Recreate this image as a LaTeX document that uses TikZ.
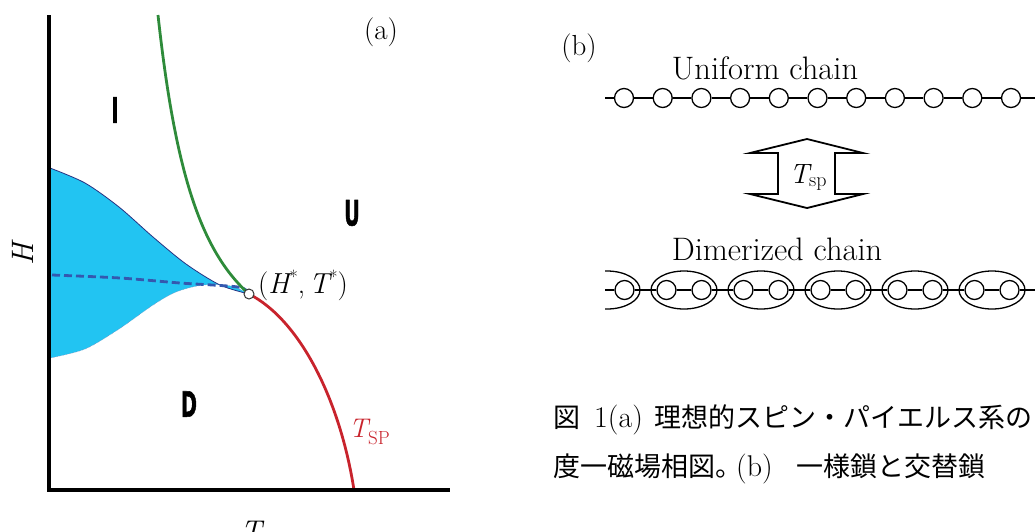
\documentclass[tikz,border=0pt]{standalone}
\usepackage{fontspec}
\newfontfamily\jp{Noto Sans CJK JP}
\newfontfamily\djv{DejaVu Sans}[BoldFeatures={FakeBold=1.5}]
\usetikzlibrary{shapes.geometric}
\definecolor{phblue}{RGB}{34,196,242}
\definecolor{edgeblue}{RGB}{40,50,130}
\definecolor{dashblue}{RGB}{52,88,175}
\definecolor{phgreen}{RGB}{46,139,58}
\definecolor{phred}{RGB}{200,35,44}
\tikzset{
  bead/.style={circle, draw, line width=1.3pt, fill=white, minimum size=19pt, inner sep=0pt},
  pairbox/.style={ellipse, draw, line width=1.3pt, minimum width=66pt, minimum height=38pt, inner sep=0pt},
  bond/.style={line width=1.2pt},
  phase/.style={font=\djv\bfseries\fontsize{35}{35}\selectfont, xscale=0.55, inner sep=0pt},
  lbl/.style={inner sep=0pt},
}
\newcommand{\bigstar}{\raisebox{10pt}{\fontsize{18}{18}\selectfont *}}
\begin{document}
\begin{tikzpicture}[x=1pt,y=-1pt]
\useasboundingbox (0,0) rectangle (1035,531);
\clip (0,0) rectangle (1035,531);
% ---------- panel (a) ----------
\fill[phblue] plot[smooth] coordinates {(50,168) (85,183) (119,207) (153,237) (186,264) (220,285) (249,294)}
  -- plot[smooth] coordinates {(249,294) (231,286) (203,285) (176,292) (153,305) (119,329) (85,349) (50,358)} -- cycle;
\draw[edgeblue, line width=0.8pt] plot[smooth] coordinates {(50,168) (85,183) (119,207) (153,237) (186,264) (220,285) (249,294)};
\draw[edgeblue!60, line width=0.5pt, densely dotted] plot[smooth] coordinates {(249,294) (231,286) (203,285) (176,292) (153,305) (119,329) (85,349) (50,358)};
\draw[dashblue, line width=2.8pt, dash pattern=on 8pt off 4pt] plot[smooth] coordinates {(52,275) (120,278) (180,283) (238,287) (248,293)};
\node[circle, minimum size=10pt, inner sep=0pt] (cp) at (249,294) {};
\coordinate (gtop) at (158,15);
\coordinate (rbot) at (354,490);
\draw[phgreen, line width=2.8pt] (gtop) .. controls (175,170) and (200,250) .. (cp.center);
\draw[phred, line width=2.8pt] (cp.center) .. controls (300,320) and (340,400) .. (rbot);
\node[circle, draw=black!80, fill=white, line width=1pt, minimum size=10pt, inner sep=0pt] (cpm) at (249,294) {};
\draw[line width=3.5pt, line join=miter] (49,15) -- (49,490) -- (450,490);
\node[phase] (I) at (115,110) {I};
\node[phase] (U) at (352,213) {U};
\node[phase] (D) at (189,404) {D};
\node[lbl, font=\fontsize{29}{29}\selectfont] (la) at (381,32) {(a)};
\node[lbl, font=\fontsize{31}{31}\selectfont, rotate=90] (Hl) at (23,254) {\itshape H};
\node[lbl, font=\fontsize{30}{30}\selectfont, anchor=north] (Tl) at (251,521) {\itshape T};
\node[lbl, font=\fontsize{29}{29}\selectfont, anchor=west] (hs) at (258,285) {({\itshape H}\bigstar,\hspace{4pt}{\itshape T}\bigstar)};
\node[lbl, text=phred, anchor=west] (tsp) at (349,432) {\fontsize{27}{27}\selectfont\itshape T\raisebox{-7pt}{\upshape\fontsize{19}{19}\selectfont SP}};
% ---------- panel (b) ----------
\node[lbl, font=\fontsize{29}{29}\selectfont] (lb) at (579,48) {(b)};
\node[lbl, font=\fontsize{32.5}{32.5}\selectfont] (uc) at (765,68) {Uniform chain};
\coordinate (uL) at (605,98);
\coordinate (uR) at (1040,98);
\foreach \i in {0,...,10} \node[bead] (u\i) at ({624+38.7*\i},98) {};
\foreach \i [count=\j from 1] in {0,...,9} \draw[bond] (u\i) -- (u\j);
\draw[bond] (uL) -- (u0);
\draw[bond] (u10) -- (uR);
% double arrow
\draw[line width=1.8pt, line join=miter] (807,139) -- (863,153) -- (835,153) -- (835,194) -- (863,194) -- (807,208) -- (750,194) -- (778,194) -- (778,153) -- (750,153) -- cycle;
\node[lbl] (tsparrow) at (808,177) {\fontsize{28}{28}\selectfont\itshape T\raisebox{-3pt}{\upshape\fontsize{20}{20}\selectfont sp}};
\node[lbl, font=\fontsize{32.5}{32.5}\selectfont] (dc) at (777,249) {Dimerized chain};
\begin{scope}
\clip (605,255) rectangle (1035,325);
\coordinate (dL) at (600,290);
\coordinate (dR) at (1040,290);
\foreach \c [count=\i from 0] in {607,684,761,838,915,992} \node[pairbox] (e\i) at (\c,290) {};
\foreach \p [count=\i from 0] in {589.5,624.5,666.5,701.5,743.5,778.5,820.5,855.5,897.5,932.5,974.5,1009.5} \node[bead] (d\i) at (\p,290) {};
\foreach \i [count=\j from 1] in {0,...,10} \draw[bond] (d\i) -- (d\j);
\draw[bond] (dL) -- (d0);
\draw[bond] (d11) -- (dR);
\end{scope}
% caption
\node[lbl, anchor=west, font=\fontsize{27}{27}\selectfont] (cap1) at (553,420) {{\jp 図}\hspace{14pt}{\fontsize{30}{30}\selectfont 1(a)}\hspace{12pt}{\jp 理想的スピン・パイエルス系の}};
\node[lbl, anchor=west, font=\fontsize{27}{27}\selectfont] (cap2) at (553,469) {{\jp 度一磁場相図。}\hspace{-6pt}{\fontsize{30}{30}\selectfont (b)}\hspace{24pt}{\jp 一様鎖と交替鎖}};
\end{tikzpicture}
\end{document}
